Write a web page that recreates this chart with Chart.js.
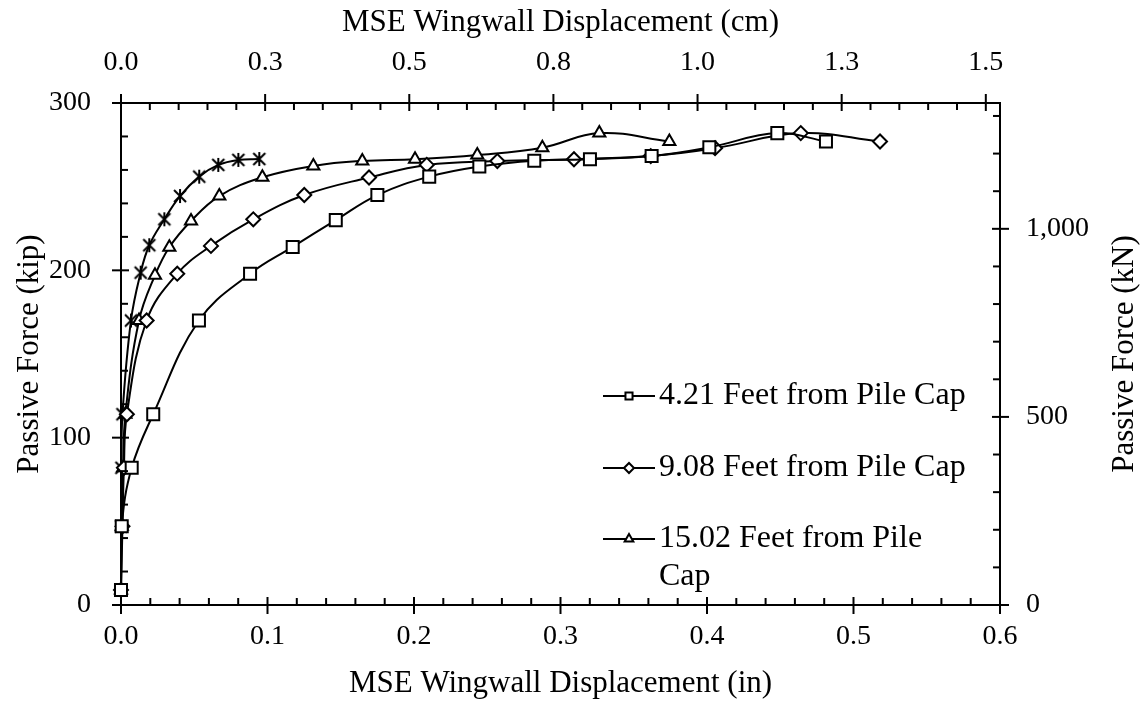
<!DOCTYPE html>
<html>
<head>
<meta charset="utf-8">
<script src="https://cdn.jsdelivr.net/npm/chart.js@4.4.1/dist/chart.umd.min.js"></script>
<style>
  html, body { margin: 0; padding: 0; background: #fff; }
  #wrap { width: 1148px; height: 706px; }
</style>
</head>
<body>
<div id="wrap"><canvas id="chart" width="1148" height="706"></canvas></div>
<script>
// data (displacement in inches, passive force in kip)
const disp421 = [0, 0.0005, 0.0073, 0.022, 0.0532, 0.0881, 0.1172, 0.1466, 0.175, 0.2104, 0.2446, 0.2821, 0.3201, 0.3622, 0.4016, 0.448, 0.4812];
const force421 = [9, 47, 82, 114, 170, 198, 214, 230, 245, 256, 262, 265.5, 266.4, 268.3, 273.5, 282, 277];

const disp908 = [0, 0.001, 0.002, 0.004, 0.0175, 0.0384, 0.0614, 0.0903, 0.1251, 0.1693, 0.2087, 0.2569, 0.3092, 0.3616, 0.4055, 0.464, 0.5181];
const force908 = [9, 47, 82, 114, 170, 198, 214.6, 230.5, 245, 255.5, 263, 265.3, 266.4, 268.3, 273, 282, 277];

const disp1502 = [0, 0.0005, 0.0015, 0.003, 0.0123, 0.0232, 0.033, 0.0478, 0.0671, 0.0965, 0.1313, 0.1647, 0.2007, 0.2432, 0.2876, 0.3265, 0.3743];
const force1502 = [9, 47, 82, 114, 170, 197, 213.8, 229.5, 244.4, 255.6, 262.4, 265.4, 266.4, 268.9, 273.3, 282, 277];

const dispStar = [0, 0, 0.0003, 0.001, 0.0068, 0.0134, 0.0193, 0.0296, 0.0403, 0.0534, 0.0664, 0.0801, 0.0944];
const forceStar = [9, 47, 82, 114, 170, 198.6, 215, 230.5, 244.4, 256, 263, 266, 266.5];

const seriesNames = ["4.21 Feet from Pile Cap", "9.08 Feet from Pile Cap", "15.02 Feet from Pile Cap"];

// axes
const inTicks = [0, 0.1, 0.2, 0.3, 0.4, 0.5, 0.6];
const cmTicks = [0, 0.254, 0.508, 0.762, 1.016, 1.27, 1.524];
const cmLabels = ["0.0", "0.3", "0.5", "0.8", "1.0", "1.3", "1.5"];
const kipTicks = [0, 100, 200, 300];
const kNTicks = [0, 500, 1000];
const kNLabels = ["0", "500", "1,000"];
const KN_PER_KIP = 4.448222;

const FONT = "'Liberation Serif', 'Times New Roman', serif";

function pts(xs, ys) {
  return xs.map((x, i) => ({ x: x, y: ys[i] }));
}

// asterisk marker (X plus vertical bar)
function makeAsterisk() {
  const c = document.createElement("canvas");
  c.width = 16;
  c.height = 16;
  const g = c.getContext("2d");
  g.strokeStyle = "#000";
  g.lineWidth = 2;
  g.beginPath();
  g.moveTo(2, 2); g.lineTo(14, 14);
  g.moveTo(14, 2); g.lineTo(2, 14);
  g.moveTo(8, 1); g.lineTo(8, 15);
  g.stroke();
  return c;
}

function serie(label, data, style, radius) {
  return {
    label: label,
    data: data,
    showLine: true,
    tension: 0.4,
    clip: false,
    borderColor: "#000",
    borderWidth: 2,
    pointStyle: style,
    pointRadius: radius,
    pointBackgroundColor: "#fff",
    pointBorderColor: "#000",
    pointBorderWidth: 2,
    xAxisID: "x",
    yAxisID: "y",
  };
}

// ticks drawn by hand: major cross the axis, minor point inward
const tickMarks = {
  id: "tickMarks",
  afterDraw(chart) {
    const { ctx, chartArea: a, scales } = chart;
    ctx.save();
    ctx.strokeStyle = "#000";
    ctx.lineWidth = 2;
    const seg = (x1, y1, x2, y2) => {
      ctx.beginPath();
      ctx.moveTo(x1, y1);
      ctx.lineTo(x2, y2);
      ctx.stroke();
    };
    // bottom (in)
    for (let i = 0; i <= 30; i++) {
      const p = scales.x.getPixelForValue(i * 0.02);
      if (i % 5 === 0) seg(p, a.bottom - 8, p, a.bottom + 9);
      else seg(p, a.bottom - 7, p, a.bottom);
    }
    // top (cm)
    for (let i = 0; i <= 30; i++) {
      const p = scales.x2.getPixelForValue(i * 0.0508);
      if (i % 5 === 0) seg(p, a.top - 9, p, a.top + 8);
      else seg(p, a.top, p, a.top + 7);
    }
    // left (kip)
    for (let i = 0; i <= 15; i++) {
      const p = scales.y.getPixelForValue(i * 20);
      if (i % 5 === 0) seg(a.left - 9, p, a.left + 8, p);
      else seg(a.left, p, a.left + 7, p);
    }
    // right (kN)
    for (let i = 0; i <= 13; i++) {
      const p = scales.y2.getPixelForValue(i * 100);
      if (i % 5 === 0) seg(a.right - 8, p, a.right + 9, p);
      else seg(a.right - 7, p, a.right, p);
    }

    // right axis title, reading bottom to top
    ctx.save();
    ctx.translate(1125, (a.top + a.bottom) / 2);
    ctx.rotate(-Math.PI / 2);
    ctx.font = "31px " + FONT;
    ctx.fillStyle = "#000";
    ctx.textAlign = "center";
    ctx.textBaseline = "middle";
    ctx.fillText("Passive Force (kN)", 0, 0);
    ctx.restore();
    ctx.restore();
  },
};

// legend inside the plot
const legendBox = {
  id: "legendBox",
  afterDraw(chart) {
    const ctx = chart.ctx;
    const rows = [
      { y: 396, style: "rect", lines: [seriesNames[0]] },
      { y: 468, style: "rectRot", lines: [seriesNames[1]] },
      { y: 539, style: "triangle", lines: ["15.02 Feet from Pile", "Cap"] },
    ];
    ctx.save();
    ctx.font = "32px " + FONT;
    ctx.fillStyle = "#000";
    ctx.textBaseline = "middle";
    rows.forEach((r) => {
      ctx.strokeStyle = "#000";
      ctx.lineWidth = 2;
      ctx.beginPath();
      ctx.moveTo(603, r.y);
      ctx.lineTo(655, r.y);
      ctx.stroke();
      ctx.fillStyle = "#fff";
      Chart.helpers.drawPoint(ctx, { pointStyle: r.style, radius: 5, borderWidth: 2 }, 629, r.y);
      ctx.fillStyle = "#000";
      r.lines.forEach((t, i) => ctx.fillText(t, 659, r.y + i * 38));
    });
    ctx.restore();
  },
};

new Chart(document.getElementById("chart"), {
  type: "scatter",
  data: {
    datasets: [
      serie(seriesNames[0], pts(disp421, force421), "rect", 8.5),
      serie(seriesNames[1], pts(disp908, force908), "rectRot", 7),
      serie(seriesNames[2], pts(disp1502, force1502), "triangle", 7),
      serie("", pts(dispStar, forceStar), makeAsterisk(), 7),
    ],
  },
  options: {
    responsive: false,
    animation: false,
    layout: { padding: 0 },
    plugins: { legend: { display: false }, tooltip: { enabled: false } },
    scales: {
      x: {
        type: "linear",
        position: "bottom",
        min: 0,
        max: 0.6,
        afterBuildTicks: (s) => { s.ticks = inTicks.map((v) => ({ value: v })); },
        afterFit: (s) => { s.height = 101; },
        grid: { display: false, drawTicks: false },
        border: { display: true, color: "#000", width: 2 },
        ticks: { padding: 15, maxRotation: 0, color: "#000", font: { family: FONT, size: 28 }, callback: (v) => v.toFixed(1) },
        title: { display: true, text: "MSE Wingwall Displacement (in)", color: "#000", font: { family: FONT, size: 31 }, padding: { top: 0, bottom: 4 } },
      },
      x2: {
        type: "linear",
        position: "top",
        min: 0,
        max: 1.549,
        afterBuildTicks: (s) => { s.ticks = cmTicks.map((v) => ({ value: v })); },
        afterFit: (s) => { s.height = 103; },
        grid: { display: false, drawTicks: false },
        border: { display: true, color: "#000", width: 2 },
        ticks: { padding: 24, maxRotation: 0, color: "#000", font: { family: FONT, size: 28 }, callback: (v, i) => cmLabels[i] },
        title: { display: true, text: "MSE Wingwall Displacement (cm)", color: "#000", font: { family: FONT, size: 31 }, padding: { top: 4, bottom: 0 } },
      },
      y: {
        type: "linear",
        position: "left",
        min: 0,
        max: 300,
        afterBuildTicks: (s) => { s.ticks = kipTicks.map((v) => ({ value: v })); },
        afterFit: (s) => { s.width = 121; },
        grid: { display: false, drawTicks: false },
        border: { display: true, color: "#000", width: 2 },
        ticks: { padding: 30, color: "#000", font: { family: FONT, size: 28 } },
        title: { display: true, text: "Passive Force (kip)", color: "#000", font: { family: FONT, size: 31 }, padding: { top: 11, bottom: 0 } },
      },
      y2: {
        type: "linear",
        position: "right",
        min: 0,
        max: 300 * KN_PER_KIP,
        afterBuildTicks: (s) => { s.ticks = kNTicks.map((v) => ({ value: v })); },
        afterFit: (s) => { s.width = 148; },
        grid: { display: false, drawTicks: false },
        border: { display: true, color: "#000", width: 2 },
        ticks: { padding: 26, color: "#000", font: { family: FONT, size: 28 }, callback: (v, i) => kNLabels[i] },
        title: { display: false },
      },
    },
  },
  plugins: [tickMarks, legendBox],
});
</script>
</body>
</html>
